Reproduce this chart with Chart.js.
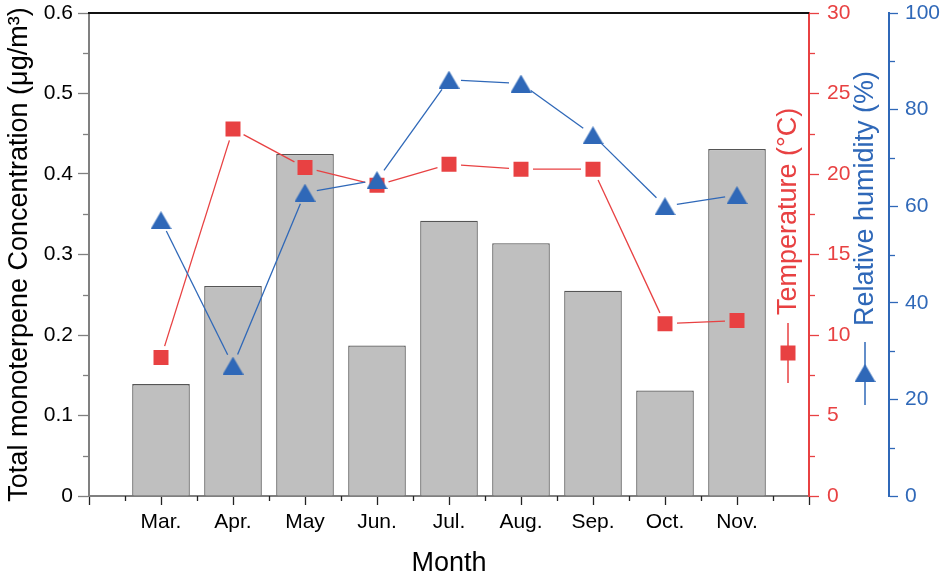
<!DOCTYPE html>
<html><head><meta charset="utf-8">
<script src="https://cdn.jsdelivr.net/npm/chart.js@4"></script>
<style>html,body{margin:0;padding:0;background:#fff}#wrap{width:946px;height:577px}</style>
</head><body><div id="wrap"><canvas id="c" width="946" height="577"></canvas></div>
<script>
// ---- data ----
const months = ['Mar.','Apr.','May','Jun.','Jul.','Aug.','Sep.','Oct.','Nov.'];
const concentration = [0.139,0.261,0.425,0.187,0.342,0.314,0.255,0.131,0.431];
const temperature = [8.6,22.8,20.4,19.3,20.6,20.3,20.3,10.7,10.9];
const humidity = [57.1,27.0,62.8,65.4,86.2,85.4,74.7,60.0,62.3];
const concTicks = [0,0.1,0.2,0.3,0.4,0.5,0.6];
const tempTicks = [0,5,10,15,20,25,30];
const humTicks = [0,20,40,60,80,100];

const RED = '#e84142', BLUE = '#2f68b8', FONT = "'Liberation Sans', Arial, sans-serif";
// category axis has an empty slot before March and after November
const labels = [''].concat(months, ['']);
const pad = a => [null].concat(a, [null]);

function triCanvas(w,h,color){const c=document.createElement('canvas');c.width=w;c.height=h;const g=c.getContext('2d');g.fillStyle=color;g.beginPath();g.moveTo(w/2,0);g.lineTo(w,h);g.lineTo(0,h);g.closePath();g.fill();return c;}
const TRI = triCanvas(21,18,BLUE);

const trimLines = {
  id:'trimLines',
  beforeDatasetDraw(chart,args){
    const ds = chart.data.datasets[args.index];
    if(!ds.trimGap) return;
    const ctx = chart.ctx, g = ds.trimGap;
    const pts = args.meta.data.filter(p=>!p.skip);
    ctx.save(); ctx.strokeStyle = ds.lineColor; ctx.lineWidth = 1.3;
    for(let i=0;i<pts.length-1;i++){
      const a=pts[i], b=pts[i+1], dx=b.x-a.x, dy=b.y-a.y, L=Math.hypot(dx,dy);
      if(L<=2*g) continue;
      const ux=dx/L, uy=dy/L;
      ctx.beginPath(); ctx.moveTo(a.x+ux*g,a.y+uy*g); ctx.lineTo(b.x-ux*g,b.y-uy*g); ctx.stroke();
    }
    ctx.restore();
  }
};

const decor = {
  id:'decor',
  afterDraw(chart){
    const ctx = chart.ctx, ca = chart.chartArea, s = chart.scales;
    ctx.save();
    // top frame
    ctx.strokeStyle='#111'; ctx.lineWidth=2;
    ctx.beginPath(); ctx.moveTo(ca.left-1,ca.top); ctx.lineTo(ca.right,ca.top); ctx.stroke();
    ctx.lineWidth=1.3;
    // minor ticks
    const yl=s.y; ctx.strokeStyle='#808080';
    for(let i=0;i<concTicks.length-1;i++){const v=(concTicks[i]+concTicks[i+1])/2,p=Math.round(yl.getPixelForValue(v))+0.5;ctx.beginPath();ctx.moveTo(yl.right,p);ctx.lineTo(yl.right-6,p);ctx.stroke();}
    const yt=s.yT; ctx.strokeStyle=RED;
    for(let i=0;i<tempTicks.length-1;i++){const v=(tempTicks[i]+tempTicks[i+1])/2,p=Math.round(yt.getPixelForValue(v))+0.5;ctx.beginPath();ctx.moveTo(yt.left,p);ctx.lineTo(yt.left+6,p);ctx.stroke();}
    const yh=s.yH; ctx.strokeStyle=BLUE;
    for(let i=0;i<humTicks.length-1;i++){const v=(humTicks[i]+humTicks[i+1])/2,p=Math.round(yh.getPixelForValue(v))+0.5;ctx.beginPath();ctx.moveTo(yh.left,p);ctx.lineTo(yh.left+6,p);ctx.stroke();}
    const x=s.x; ctx.strokeStyle='#222';
    for(let i=0;i<labels.length-1;i++){const p=Math.round((x.getPixelForValue(i)+x.getPixelForValue(i+1))/2)+0.5;ctx.beginPath();ctx.moveTo(p,x.top);ctx.lineTo(p,x.top+5);ctx.stroke();}
    // right axis titles with legend symbols
    ctx.font = '27px '+FONT; ctx.textBaseline='middle'; ctx.textAlign='left';
    // temperature
    let cx = yt.left-21, cy = ca.top+340;
    ctx.strokeStyle=RED; ctx.fillStyle=RED; ctx.lineWidth=1.5;
    ctx.beginPath(); ctx.moveTo(cx,cy-30); ctx.lineTo(cx,cy+30); ctx.stroke();
    ctx.fillRect(cx-7.5,cy-7.5,15,15);
    ctx.save(); ctx.translate(cx,cy-38); ctx.rotate(-Math.PI/2); ctx.fillText('Temperature (°C)',0,1); ctx.restore();
    // humidity
    cx = yh.left-24; cy = ca.top+360;
    ctx.strokeStyle=BLUE; ctx.fillStyle=BLUE;
    ctx.beginPath(); ctx.moveTo(cx,cy-31); ctx.lineTo(cx,cy+32); ctx.stroke();
    ctx.drawImage(TRI,cx-10.5,cy-9);
    ctx.save(); ctx.translate(cx,cy-47); ctx.rotate(-Math.PI/2); ctx.fillText('Relative humidity (%)',0,1); ctx.restore();
    ctx.restore();
  }
};

function noPadY(s){ s.paddingTop = 0; s.paddingBottom = 0; }

new Chart(document.getElementById('c'), {
  data: {
    labels,
    datasets: [
      { type:'bar', label:'Total monoterpene', data: pad(concentration), yAxisID:'y',
        backgroundColor:'#bfbfbf', borderColor:'#555555', borderWidth:1.3,
        categoryPercentage:1.0, barPercentage:0.8, order:3 },
      { type:'line', label:'Temperature', data: pad(temperature), yAxisID:'yT',
        showLine:false, trimGap:12, lineColor:RED,
        pointStyle:'rect', pointRadius:10.6, pointHoverRadius:10.6, pointBackgroundColor:RED, pointBorderWidth:0, order:2 },
      { type:'line', label:'Relative humidity', data: pad(humidity), yAxisID:'yH',
        showLine:false, trimGap:12, lineColor:BLUE,
        pointStyle:TRI, pointRadius:10, pointHoverRadius:10, pointBorderWidth:0, order:1 }
    ]
  },
  options: {
    responsive:false, animation:false, devicePixelRatio:1,
    layout:{padding:{top:13,left:0,right:0,bottom:0}},
    plugins:{legend:{display:false}, tooltip:{enabled:false}},
    scales:{
      x:{ type:'category', offset:false,
        grid:{offset:false, drawOnChartArea:false, drawTicks:true, tickLength:9, tickColor:'#222', tickWidth:1.3},
        border:{display:true, color:'#7f7f7f', width:2},
        ticks:{color:'#000', font:{family:FONT,size:21}, padding:5, autoSkip:false, maxRotation:0},
        title:{display:true, text:'Month', color:'#000', font:{family:FONT,size:27,lineHeight:1}, padding:{top:0,bottom:0}},
        afterFit(s){ s.height = 81; s.paddingLeft = 0; s.paddingRight = 0; } },
      y:{ position:'left', min:0, max:0.6,
        afterBuildTicks(s){ s.ticks = concTicks.map(v=>({value:v})); },
        grid:{drawOnChartArea:false, drawTicks:true, tickLength:11, tickColor:'#808080', tickWidth:1.3},
        border:{display:true, color:'#808080', width:2},
        ticks:{color:'#000', font:{family:FONT,size:21}, padding:5},
        title:{display:true, text:'Total monoterpene Concentration (μg/m³)', color:'#000', font:{family:FONT,size:27,lineHeight:1}, padding:{top:6,bottom:0}},
        afterFit(s){ s.width = 89; noPadY(s); } },
      yT:{ position:'right', min:0, max:30,
        afterBuildTicks(s){ s.ticks = tempTicks.map(v=>({value:v})); },
        grid:{drawOnChartArea:false, drawTicks:true, tickLength:10, tickColor:RED, tickWidth:1.3},
        border:{display:true, color:RED, width:2},
        ticks:{color:RED, font:{family:FONT,size:21}, padding:8},
        afterFit(s){ s.width = 80; noPadY(s); } },
      yH:{ position:'right', min:0, max:100,
        afterBuildTicks(s){ s.ticks = humTicks.map(v=>({value:v})); },
        grid:{drawOnChartArea:false, drawTicks:true, tickLength:9, tickColor:BLUE, tickWidth:1.3},
        border:{display:true, color:BLUE, width:2},
        ticks:{color:BLUE, font:{family:FONT,size:21}, padding:7},
        afterFit(s){ s.width = 57; noPadY(s); } }
    }
  },
  plugins:[trimLines, decor]
});
</script></body></html>
